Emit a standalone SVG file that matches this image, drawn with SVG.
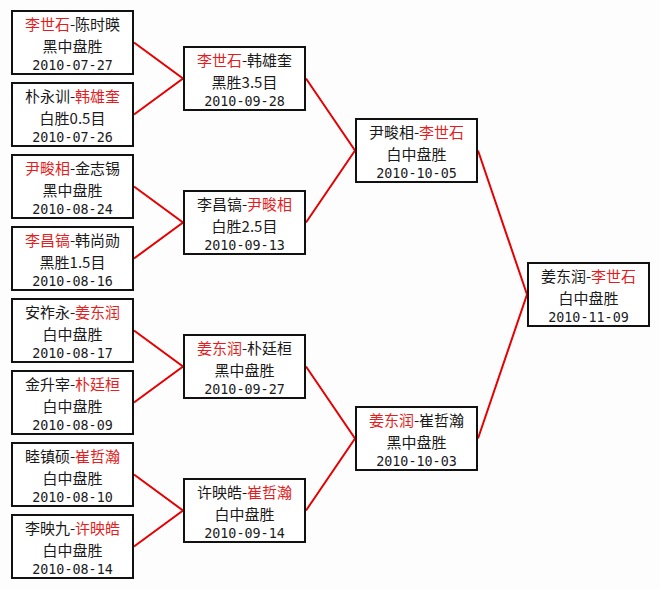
<svg xmlns="http://www.w3.org/2000/svg" width="660" height="589" viewBox="0 0 660 589">
<style>
.box{fill:#ffffff;stroke:#111111;stroke-width:2}
.t{font-family:"Noto Sans CJK SC","Noto Sans CJK TC",sans-serif;font-size:15px;fill:#1a1a1a;text-anchor:middle}
.d{font-family:"DejaVu Sans Mono","Liberation Mono",monospace;font-size:13.4px;fill:#1a1a1a;text-anchor:middle}
.r{fill:#e41e1e}
.c{stroke:#e60000;stroke-width:2;fill:none}
</style>
<rect x="0" y="0" width="660" height="589" fill="#fdfdfd"/>
<g id="connectors">
<path class="c" d="M134,42.5 L183,78.5 L134,114.5"/>
<path class="c" d="M134,186.5 L183,222.5 L134,258.5"/>
<path class="c" d="M134,330.5 L183,366.5 L134,402.5"/>
<path class="c" d="M134,474.5 L183,510.5 L134,546.5"/>
<path class="c" d="M306,78.5 L355,150.5 L306,222.5"/>
<path class="c" d="M306,366.5 L355,438.5 L306,510.5"/>
<path class="c" d="M478,150.5 L527,294.5 L478,438.5"/>
</g>
<g id="r1-1">
<rect class="box" x="12" y="11" width="121" height="63"/>
<text class="t" x="72.5" y="30"><tspan class="r">李世石</tspan>-陈时暎</text>
<text class="t" x="72.5" y="52.3">黑中盘胜</text>
<text class="d" x="72.5" y="69.5">2010-07-27</text>
</g>
<g id="r1-2">
<rect class="box" x="12" y="83" width="121" height="63"/>
<text class="t" x="72.5" y="102">朴永训-<tspan class="r">韩雄奎</tspan></text>
<text class="t" x="72.5" y="124.3">白胜0.5目</text>
<text class="d" x="72.5" y="141.5">2010-07-26</text>
</g>
<g id="r1-3">
<rect class="box" x="12" y="155" width="121" height="63"/>
<text class="t" x="72.5" y="174"><tspan class="r">尹畯相</tspan>-金志锡</text>
<text class="t" x="72.5" y="196.3">黑中盘胜</text>
<text class="d" x="72.5" y="213.5">2010-08-24</text>
</g>
<g id="r1-4">
<rect class="box" x="12" y="227" width="121" height="63"/>
<text class="t" x="72.5" y="246"><tspan class="r">李昌镐</tspan>-韩尚勋</text>
<text class="t" x="72.5" y="268.3">黑胜1.5目</text>
<text class="d" x="72.5" y="285.5">2010-08-16</text>
</g>
<g id="r1-5">
<rect class="box" x="12" y="299" width="121" height="63"/>
<text class="t" x="72.5" y="318">安祚永-<tspan class="r">姜东润</tspan></text>
<text class="t" x="72.5" y="340.3">白中盘胜</text>
<text class="d" x="72.5" y="357.5">2010-08-17</text>
</g>
<g id="r1-6">
<rect class="box" x="12" y="371" width="121" height="63"/>
<text class="t" x="72.5" y="390">金升宰-<tspan class="r">朴廷桓</tspan></text>
<text class="t" x="72.5" y="412.3">白中盘胜</text>
<text class="d" x="72.5" y="429.5">2010-08-09</text>
</g>
<g id="r1-7">
<rect class="box" x="12" y="443" width="121" height="63"/>
<text class="t" x="72.5" y="462">睦镇硕-<tspan class="r">崔哲瀚</tspan></text>
<text class="t" x="72.5" y="484.3">白中盘胜</text>
<text class="d" x="72.5" y="501.5">2010-08-10</text>
</g>
<g id="r1-8">
<rect class="box" x="12" y="515" width="121" height="63"/>
<text class="t" x="72.5" y="534">李映九-<tspan class="r">许映皓</tspan></text>
<text class="t" x="72.5" y="556.3">白中盘胜</text>
<text class="d" x="72.5" y="573.5">2010-08-14</text>
</g>
<g id="r2-1">
<rect class="box" x="184" y="47" width="121" height="63"/>
<text class="t" x="244.5" y="66"><tspan class="r">李世石</tspan>-韩雄奎</text>
<text class="t" x="244.5" y="88.3">黑胜3.5目</text>
<text class="d" x="244.5" y="105.5">2010-09-28</text>
</g>
<g id="r2-2">
<rect class="box" x="184" y="191" width="121" height="63"/>
<text class="t" x="244.5" y="210">李昌镐-<tspan class="r">尹畯相</tspan></text>
<text class="t" x="244.5" y="232.3">白胜2.5目</text>
<text class="d" x="244.5" y="249.5">2010-09-13</text>
</g>
<g id="r2-3">
<rect class="box" x="184" y="335" width="121" height="63"/>
<text class="t" x="244.5" y="354"><tspan class="r">姜东润</tspan>-朴廷桓</text>
<text class="t" x="244.5" y="376.3">黑中盘胜</text>
<text class="d" x="244.5" y="393.5">2010-09-27</text>
</g>
<g id="r2-4">
<rect class="box" x="184" y="479" width="121" height="63"/>
<text class="t" x="244.5" y="498">许映皓-<tspan class="r">崔哲瀚</tspan></text>
<text class="t" x="244.5" y="520.3">白中盘胜</text>
<text class="d" x="244.5" y="537.5">2010-09-14</text>
</g>
<g id="r3-1">
<rect class="box" x="356" y="119" width="121" height="63"/>
<text class="t" x="416.5" y="138">尹畯相-<tspan class="r">李世石</tspan></text>
<text class="t" x="416.5" y="160.3">白中盘胜</text>
<text class="d" x="416.5" y="177.5">2010-10-05</text>
</g>
<g id="r3-2">
<rect class="box" x="356" y="407" width="121" height="63"/>
<text class="t" x="416.5" y="426"><tspan class="r">姜东润</tspan>-崔哲瀚</text>
<text class="t" x="416.5" y="448.3">黑中盘胜</text>
<text class="d" x="416.5" y="465.5">2010-10-03</text>
</g>
<g id="r4-1">
<rect class="box" x="528" y="263" width="121" height="63"/>
<text class="t" x="588.5" y="282">姜东润-<tspan class="r">李世石</tspan></text>
<text class="t" x="588.5" y="304.3">白中盘胜</text>
<text class="d" x="588.5" y="321.5">2010-11-09</text>
</g>
</svg>
